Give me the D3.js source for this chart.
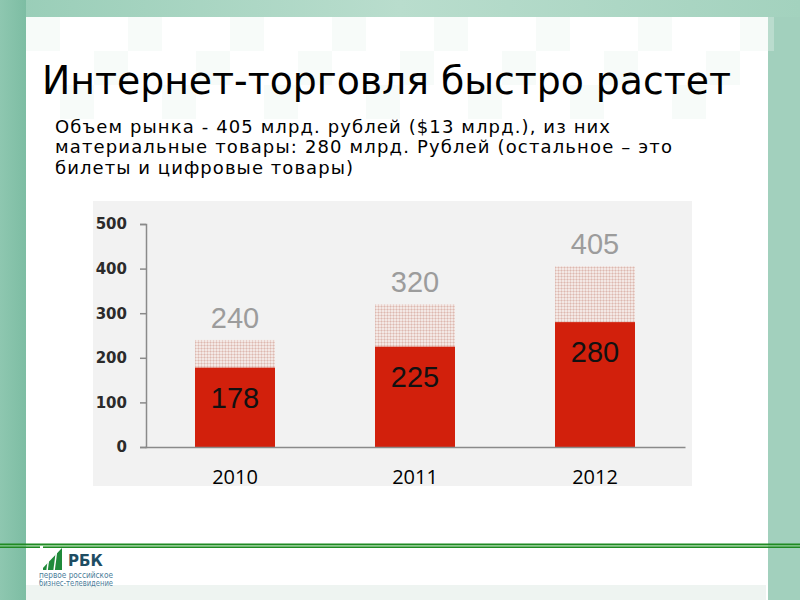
<!DOCTYPE html>
<html>
<head>
<meta charset="utf-8">
<script src="https://cdn.jsdelivr.net/npm/d3@7"></script>
<style>
  html, body { margin: 0; padding: 0; background: #fff; }
  svg { display: block; }
</style>
</head>
<body>
<svg id="chart" width="800" height="600"></svg>
<script>
// ---- data ----
const years = ["2010", "2011", "2012"];
const materialGoods = [178, 225, 280];   // млрд. руб. (материальные товары)
const totalMarket = [240, 320, 405];     // млрд. руб. (весь рынок)
const yTicks = [0, 100, 200, 300, 400, 500];

const titleText = "Интернет-торговля быстро растет";
const subtitleLines = [
  "Объем рынка - 405 млрд. рублей ($13 млрд.), из них",
  "материальные товары: 280 млрд. Рублей (остальное – это",
  "билеты и цифровые товары)"
];
const logoLines = ["первое российское", "бизнес-телевидение"];

// ---- drawing ----
const svg = d3.select("#chart");
const defs = svg.append("defs");

// slide background
const gLeft = defs.append("linearGradient").attr("id", "gLeft").attr("x1", 0).attr("x2", 1).attr("y1", 0).attr("y2", 0);
gLeft.append("stop").attr("offset", 0).attr("stop-color", "#8ec7b0");
gLeft.append("stop").attr("offset", 1).attr("stop-color", "#7dbda3");
const gTop = defs.append("linearGradient").attr("id", "gTop").attr("x1", 0).attr("x2", 1).attr("y1", 0).attr("y2", 0);
gTop.append("stop").attr("offset", 0).attr("stop-color", "#98cdb7");
gTop.append("stop").attr("offset", 0.5).attr("stop-color", "#b9ddcd");
gTop.append("stop").attr("offset", 1).attr("stop-color", "#a3d2be");

svg.append("rect").attr("x", 0).attr("y", 0).attr("width", 800).attr("height", 600).attr("fill", "#a2d0bd");
svg.append("rect").attr("x", 0).attr("y", 0).attr("width", 800).attr("height", 17).attr("fill", "url(#gTop)");
svg.append("rect").attr("x", 0).attr("y", 0).attr("width", 26).attr("height", 600).attr("fill", "url(#gLeft)");
svg.append("rect").attr("x", 26).attr("y", 17).attr("width", 742).attr("height", 583).attr("fill", "#ffffff");

// faint checker texture at the top of the panel
const tiles = svg.append("g").attr("opacity", 0.35);
for (let i = 0; i < 22; i++) {
  for (let j = 0; j < 3; j++) {
    if ((i + j) % 3 === 0) {
      tiles.append("rect").attr("x", 26 + i * 34).attr("y", 17 + j * 34).attr("width", 34).attr("height", 34)
        .attr("fill", "#e9f4ef");
    }
  }
}
svg.append("rect").attr("x", 26).attr("y", 585).attr("width", 740).attr("height", 15).attr("fill", "#eef4f1");

// title
svg.append("text")
  .attr("x", 42).attr("y", 94)
  .attr("font-family", "'DejaVu Sans', sans-serif")
  .attr("font-size", 39)
  .attr("fill", "#000")
  .attr("textLength", 689)
  .attr("lengthAdjust", "spacingAndGlyphs")
  .text(titleText);

// subtitle
const subWidths = [555, 617, 298];
svg.append("g").selectAll("text").data(subtitleLines).join("text")
  .attr("x", 55)
  .attr("y", (d, i) => 132.5 + i * 20.5)
  .attr("font-family", "'DejaVu Sans', sans-serif")
  .attr("font-size", 18)
  .attr("fill", "#000")
  .attr("textLength", (d, i) => subWidths[i])
  .attr("lengthAdjust", "spacing")
  .text(d => d);

// chart panel
svg.append("rect").attr("x", 93).attr("y", 201).attr("width", 599).attr("height", 285).attr("fill", "#f2f2f2");

// hatch pattern
const pat = defs.append("pattern").attr("id", "hatch").attr("patternUnits", "userSpaceOnUse")
  .attr("width", 3).attr("height", 3);
pat.append("rect").attr("width", 3).attr("height", 3).attr("fill", "#f3e8e5");
pat.append("rect").attr("x", 0).attr("y", 0).attr("width", 3).attr("height", 1).attr("fill", "#e8d0ca");
pat.append("rect").attr("x", 0).attr("y", 0).attr("width", 1).attr("height", 3).attr("fill", "#e8d0ca");
pat.append("rect").attr("x", 0).attr("y", 0).attr("width", 1).attr("height", 1).attr("fill", "#ddb8b0");

const x = d3.scaleBand().domain(years).range([145, 685]).paddingInner(100 / 180).paddingOuter(50 / 180);
const y = d3.scaleLinear().domain([0, 500]).range([447, 224]);

// total (hatched) bars
svg.append("g").selectAll("rect").data(years).join("rect")
  .attr("x", d => x(d))
  .attr("width", x.bandwidth())
  .attr("y", (d, i) => y(totalMarket[i]))
  .attr("height", (d, i) => y(0) - y(totalMarket[i]))
  .attr("fill", "url(#hatch)");

// material goods bars
svg.append("g").selectAll("rect").data(years).join("rect")
  .attr("x", d => x(d))
  .attr("width", x.bandwidth())
  .attr("y", (d, i) => y(materialGoods[i]))
  .attr("height", (d, i) => y(0) - y(materialGoods[i]))
  .attr("fill", "#d2200c");

// y axis
const yAxis = svg.append("g").attr("transform", "translate(146,0)")
  .call(d3.axisLeft(y).tickValues(yTicks).tickSize(6).tickPadding(13).tickFormat(d3.format("d")));
yAxis.select(".domain").attr("stroke", "#8a8a8a").attr("stroke-width", 1.5);
yAxis.selectAll(".tick line").attr("stroke", "#8a8a8a").attr("stroke-width", 1.5);
yAxis.selectAll(".tick text")
  .attr("font-family", "'DejaVu Sans', sans-serif")
  .attr("font-weight", "bold")
  .attr("font-size", 15)
  .attr("fill", "#2b2b2b");

// x axis
const xAxis = svg.append("g").attr("transform", "translate(0,447)")
  .call(d3.axisBottom(x).tickSize(0).tickSizeOuter(0));
xAxis.select(".domain").attr("stroke", "#8a8a8a").attr("stroke-width", 1.5);
xAxis.selectAll(".tick text")
  .attr("y", 37).attr("dy", 0)
  .attr("font-family", "'Open Sans', sans-serif")
  .attr("font-size", 20)
  .attr("fill", "#000");

// labels
svg.append("g").selectAll("text").data(years).join("text")
  .attr("x", d => x(d) + x.bandwidth() / 2)
  .attr("y", (d, i) => y(totalMarket[i]) - 12)
  .attr("text-anchor", "middle")
  .attr("font-family", "'Liberation Sans', Arial, sans-serif")
  .attr("font-size", 29)
  .attr("fill", "#9c9c9c")
  .text((d, i) => totalMarket[i]);

svg.append("g").selectAll("text").data(years).join("text")
  .attr("x", d => x(d) + x.bandwidth() / 2)
  .attr("y", (d, i) => y(materialGoods[i]) + 40)
  .attr("text-anchor", "middle")
  .attr("font-family", "'Liberation Sans', Arial, sans-serif")
  .attr("font-size", 29)
  .attr("fill", "#111")
  .text((d, i) => materialGoods[i]);

// bottom green line
svg.append("rect").attr("x", 0).attr("y", 543.5).attr("width", 800).attr("height", 2).attr("fill", "#1f8a23");
svg.append("rect").attr("x", 0).attr("y", 545.5).attr("width", 800).attr("height", 1).attr("fill", "#8fd08f");
svg.append("rect").attr("x", 0).attr("y", 546.5).attr("width", 800).attr("height", 1.5).attr("fill", "#1f8a23");

// logo
const logo = svg.append("g");
logo.append("polygon").attr("points", "41,570 62,548 62,570").attr("fill", "#1f8a3a");
logo.append("line").attr("x1", 47).attr("y1", 571).attr("x2", 50).attr("y2", 548).attr("stroke", "#fff").attr("stroke-width", 1.5);
logo.append("line").attr("x1", 54).attr("y1", 571).attr("x2", 57).attr("y2", 548).attr("stroke", "#fff").attr("stroke-width", 1.5);
logo.append("rect").attr("x", 40).attr("y", 546).attr("width", 3).attr("height", 24).attr("fill", "#fff");
logo.append("text").attr("x", 68).attr("y", 566)
  .attr("font-family", "'DejaVu Sans', sans-serif").attr("font-weight", "bold").attr("font-size", 15)
  .attr("fill", "#1e4d63").text("РБК");
logo.append("g").selectAll("text").data(logoLines).join("text")
  .attr("x", 39).attr("y", (d, i) => 578 + i * 8)
  .attr("font-family", "'DejaVu Sans Condensed', 'DejaVu Sans', sans-serif").attr("font-size", 8)
  .attr("fill", "#4b7d99")
  .attr("textLength", 74).attr("lengthAdjust", "spacingAndGlyphs")
  .text(d => d);
</script>
</body>
</html>
